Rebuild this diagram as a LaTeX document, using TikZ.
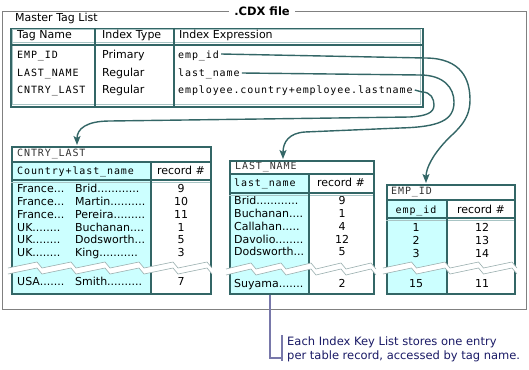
\documentclass[tikz,border=0pt]{standalone}
\usepackage{fontspec}
\setsansfont{DejaVu Sans}
\setmonofont[LetterSpace=9]{DejaVu Sans Mono}
\usetikzlibrary{arrows.meta,calc}
\definecolor{border}{HTML}{336666}
\definecolor{pale}{HTML}{A8C4C4}
\definecolor{keyfill}{HTML}{CCFFFF}
\definecolor{frame}{HTML}{808080}
\definecolor{tearln}{HTML}{9AAFAF}
\definecolor{note}{HTML}{7878AA}
\definecolor{notetext}{HTML}{1A1A66}

% torn band across a table: x start, tooth width, teeth, top y
\newcommand\tearband[4]{%
  \fill[white] (#1,#4+6) foreach \k in {1,...,#3}{ -- ++(#2-5,-6) -- ++(5,6) }
    -- ++(0,6) foreach \k in {1,...,#3}{ -- ++(-5,-6) -- ++(-#2+5,6) } -- cycle;
  \draw[tearln,line width=.6pt] (#1,#4+6) foreach \k in {1,...,#3}{ -- ++(#2-5,-6) -- ++(5,6) };
  \draw[tearln,line width=.6pt] (#1,#4+12) foreach \k in {1,...,#3}{ -- ++(#2-5,-6) -- ++(5,6) };
}

\begin{document}
\begin{tikzpicture}[x=1pt,y=-1pt,
  lbl/.style={anchor=west,inner sep=0,text height=8pt,text depth=2.5pt,font=\sffamily\fontsize{11}{13}\selectfont},
  num/.style={inner sep=0,text height=8pt,text depth=2.5pt,font=\sffamily\fontsize{11}{13}\selectfont},
  code/.style={anchor=west,inner sep=0,text height=8pt,text depth=2.5pt,font=\ttfamily\fontsize{10}{13}\selectfont},
  tblbox/.style={draw=border,line width=1.5pt,anchor=north west,inner sep=0},
  rule/.style={draw=border,line width=1.1pt},
  link/.style={draw=border,line width=1.4pt,-{Stealth[length=9pt,width=7pt,inset=2pt]}},
  note/.style={draw=note,line width=1.4pt}]
\useasboundingbox (0,0) rectangle (529,369);
\fill[white] (0,0) rectangle (529,369);

% .CDX file frame
\draw[frame,line width=.9pt] (2,11) rectangle (526,309);
\node[fill=white,inner xsep=5pt,inner ysep=1pt,font=\sffamily\bfseries\fontsize{11.5}{13}\selectfont] (cdx) at (262,11) {.CDX file};

% master tag list
\node[lbl] (mtl) at (15,19) {Master Tag List};
\node[tblbox,minimum width=412,minimum height=78] (mst) at (10,28) {};
\draw[pale,line width=1pt] (12,30) rectangle (420,104);
\draw[pale,line width=1pt] (12,43) -- (420,43);
\draw[rule] (10,45) -- (422,45);
\draw[rule] (95,28) -- (95,106);
\draw[rule] (174,28) -- (174,106);
\node[lbl] (h1) at (17,36) {Tag Name};
\node[lbl] (h2) at (102,36) {Index Type};
\node[lbl] (h3) at (179,36) {Index Expression};
\node[code] (tg1) at (17,56) {EMP\_ID};
\node[code] (tg2) at (17,74) {LAST\_NAME};
\node[code] (tg3) at (17,91) {CNTRY\_LAST};
\node[lbl] (ty1) at (102,56) {Primary};
\node[lbl] (ty2) at (102,74) {Regular};
\node[lbl] (ty3) at (102,91) {Regular};
\node[code] (ex1) at (178,56) {emp\_id};
\node[code] (ex2) at (178,74) {last\_name};
\node[code] (ex3) at (178,91) {employee.country+employee.lastname};

% CNTRY_LAST key list
\fill[keyfill] (11,162) rectangle (151,293);
\node[code,text=black!80] (cl) at (17,154) {CNTRY\_LAST};
\node[code] (clk) at (17,172) {Country+last\_name};
\node[num] (clr) at (181,172) {record \#};
\foreach \c/\n/\r [count=\i] in {{France...}/{Brid............}/9,{France...}/{Martin..........}/10,{France...}/{Pereira.........}/11,{UK........}/{Buchanan....}/1,{UK........}/{Dodsworth...}/5,{UK........}/{King...........}/3}{
  \node[lbl] (cc\i) at (17,177.2+12.8*\i) {\c};
  \node[lbl] (cn\i) at (75,177.2+12.8*\i) {\n};
  \node[num] (cr\i) at (181,177.2+12.8*\i) {\r};
}
\node[lbl] (cc9) at (17,283) {USA.......};
\node[lbl] (cn9) at (75,283) {Smith..........};
\node[num] (cr9) at (181,283) {7};
\node[tblbox,minimum width=199,minimum height=147] (tcl) at (11,146) {};
\draw[rule] (11,162) -- (210,162);
\draw[pale,line width=1pt] (11,182) -- (210,182);
\draw[rule] (11,180) -- (210,180);
\draw[rule] (151,162) -- (151,293);
\tearband{8}{34}{6}{262}

% LAST_NAME key list
\fill[keyfill] (229,174) rectangle (309,293);
\node[code,text=black!80] (ln) at (235,167) {LAST\_NAME};
\node[code] (lnk) at (234,184) {last\_name};
\node[num] (lnr) at (341,184) {record \#};
\foreach \n/\r [count=\i] in {{Brid............}/9,{Buchanan....}/1,{Callahan.....}/4,{Davolio........}/12,{Dodsworth...}/5}{
  \node[lbl] (ln\i) at (234,189.25+12.75*\i) {\n};
  \node[num] (lr\i) at (342,189.25+12.75*\i) {\r};
}
\node[lbl] (ln9) at (234,285) {Suyama.......};
\node[num] (lr9) at (342,285) {2};
\node[tblbox,minimum width=144,minimum height=133] (tln) at (229,160) {};
\draw[rule] (229,174) -- (373,174);
\draw[pale,line width=1pt] (229,195) -- (373,195);
\draw[rule] (229,193) -- (373,193);
\draw[rule] (309,174) -- (309,293);
\tearband{226}{30}{5}{263}

% EMP_ID key list
\fill[keyfill] (386,200) rectangle (447,293);
\node[code,text=black!80] (ei) at (391,192) {EMP\_ID};
\node[code,anchor=center] (eik) at (416,211) {emp\_id};
\node[num] (eir) at (481,211) {record \#};
\foreach \n/\r [count=\i] in {1/12,2/13,3/14}{
  \node[num] (en\i) at (416,216.3+12.7*\i) {\n};
  \node[num] (er\i) at (482,216.3+12.7*\i) {\r};
}
\node[num] (en9) at (416,285) {15};
\node[num] (er9) at (482,285) {11};
\node[tblbox,minimum width=128,minimum height=109] (tei) at (386,184) {};
\draw[rule] (386,200) -- (514,200);
\draw[pale,line width=1pt] (386,220) -- (514,220);
\draw[rule] (386,218) -- (514,218);
\draw[rule] (447,200) -- (447,293);
\tearband{383}{33.5}{4}{262}

% tag links
\coordinate (in1) at ($(tei.north west)+(40,-1)$);
\coordinate (in2) at ($(tln.north west)+(54,-1)$);
\coordinate (in3) at ($(tcl.north west)+(66,-1)$);
\draw[link] ([shift={(2,-2)}]ex1.east) -- (425,58) .. controls (462,58) and (470,80) .. (470,100)
  .. controls (470,122) and (455,131) .. (445,142) .. controls (433,155) and (426,168) .. (in1);
\draw[link] ([shift={(2,-1)}]ex2.east) -- (420,75) .. controls (444,75) and (454,88) .. (454,102)
  .. controls (454,120) and (440,127) .. (400,128) -- (305,132) .. controls (289,133) and (283,142) .. (in2);
\draw[link] ([shift={(2,-1)}]ex3.east) -- (422,92) .. controls (431,92) and (434,99) .. (434,105)
  .. controls (434,113) and (426,116) .. (410,117) -- (110,121) .. controls (86,121) and (77,129) .. (in3);

% callout
\coordinate (nb) at (282,358);
\draw[note] ($(tln.south west)+(41,0)$) |- (nb);
\draw[note] (282,335) -- (282,361);
\node[anchor=west,inner sep=0,align=left,text=notetext,font=\sffamily\fontsize{11.5}{14}\selectfont] (txt) at (287,349)
  {Each Index Key List stores one entry\\per table record, accessed by tag name.};
\end{tikzpicture}
\end{document}
